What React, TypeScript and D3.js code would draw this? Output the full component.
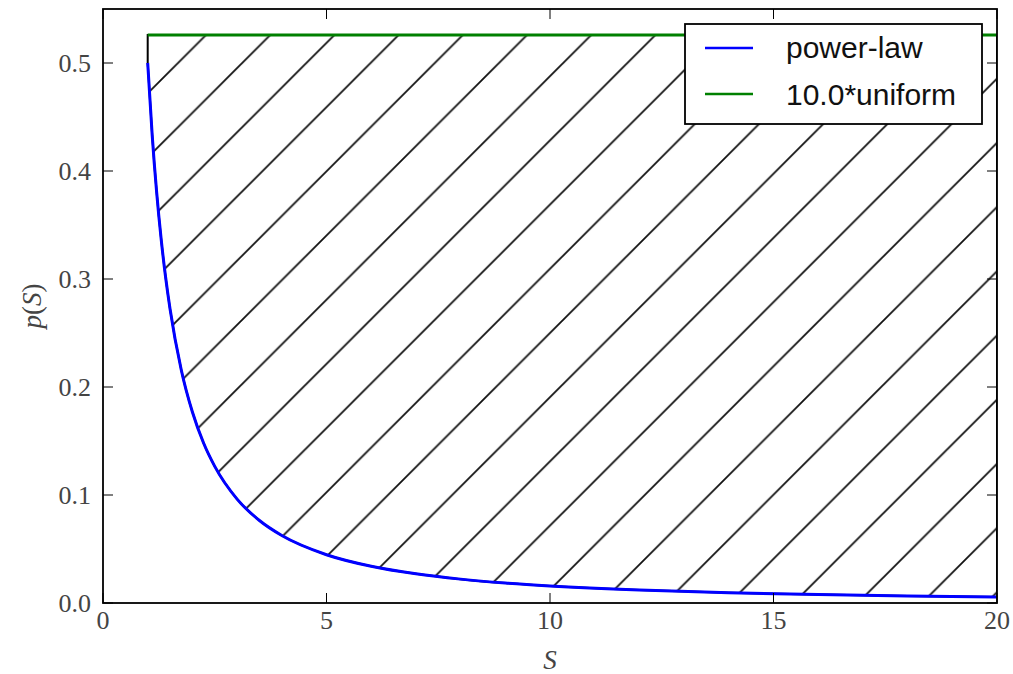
import React from "react";
import * as d3 from "d3";

const sValues = [1, 1.1, 1.2, 1.3, 1.4, 1.5, 1.75, 2, 2.25, 2.5, 3, 3.5, 4, 5, 6, 7, 8, 9, 10, 12, 14, 16, 18, 20];
const powerLaw = [0.5, 0.4334, 0.3804, 0.3373, 0.3018, 0.2722, 0.216, 0.1768, 0.1481, 0.1265, 0.0962, 0.0764, 0.0625, 0.0447, 0.034, 0.027, 0.0221, 0.0185, 0.0158, 0.012, 0.00955, 0.00781, 0.00655, 0.00559];
const uniformS = [1, 20];
const uniformP = [0.526, 0.526];
const xTicks = [0, 5, 10, 15, 20];
const yTicks = [0, 0.1, 0.2, 0.3, 0.4, 0.5];
const legendLabels = ["power-law", "10.0*uniform"];
const legendColors = ["#0000ff", "#008000"];

const W = 1013, H = 674;
const L = 103, R = 997, T = 9, B = 603;

export default function App() {
  const x = d3.scaleLinear().domain([0, 20]).range([L, R]);
  const y = d3.scaleLinear().domain([0, 0.55]).range([B, T]);
  const pts: [number, number][] = sValues.map((s, i) => [s, powerLaw[i]]);
  const line = d3.line<[number, number]>().x(d => x(d[0])).y(d => y(d[1])).curve(d3.curveMonotoneX);
  const uniPts: [number, number][] = uniformS.map((s, i) => [s, uniformP[i]]);
  const upper = sValues.map(s => [s, d3.interpolateNumber(uniformP[0], uniformP[1])((s - uniformS[0]) / (uniformS[1] - uniformS[0]))] as [number, number]);
  const area = d3.area<[number, number]>()
    .x(d => x(d[0]))
    .y0((d, i) => y(upper[i][1]))
    .y1(d => y(d[1]))
    .curve(d3.curveMonotoneX);
  const hw = 64.2;
  const serif = "'Liberation Serif', 'DejaVu Serif', serif";
  const sans = "'Liberation Sans', Arial, sans-serif";
  const tickLen = 10;
  return (
    <svg width={W} height={H} style={{ position: "absolute", left: 0, top: 0, background: "#fff" }}>
      <defs>
        <pattern id="hatch" patternUnits="userSpaceOnUse" x={241 % hw} y={0} width={hw} height={hw}>
          <path d={`M0,${hw} L${hw},0 M-3,3 L3,-3 M${hw - 3},${hw + 3} L${hw + 3},${hw - 3}`} stroke="#111" strokeWidth={1.8} />
        </pattern>
        <clipPath id="plotclip">
          <rect x={L} y={T} width={R - L} height={B - T} />
        </clipPath>
      </defs>
      <rect x={0} y={0} width={W} height={H} fill="#fff" />
      <g clipPath="url(#plotclip)">
        <path d={area(pts) || ""} fill="url(#hatch)" stroke="#000" strokeWidth={2} />
        <path d={line(uniPts) || ""} fill="none" stroke={legendColors[1]} strokeWidth={3} />
        <path d={line(pts) || ""} fill="none" stroke={legendColors[0]} strokeWidth={3} />
      </g>
      <rect x={L} y={T} width={R - L} height={B - T} fill="none" stroke="#000" strokeWidth={1.8} />
      {xTicks.map(t => (
        <g key={"x" + t}>
          <line x1={x(t)} x2={x(t)} y1={B} y2={B - tickLen} stroke="#000" strokeWidth={1} />
          <line x1={x(t)} x2={x(t)} y1={T} y2={T + tickLen} stroke="#000" strokeWidth={1} />
          <text x={x(t)} y={629} textAnchor="middle" fontFamily={serif} fontSize={26} fill="#444">{t}</text>
        </g>
      ))}
      {yTicks.map(t => (
        <g key={"y" + t}>
          <line x1={L} x2={L + tickLen} y1={y(t)} y2={y(t)} stroke="#000" strokeWidth={1} />
          <line x1={R} x2={R - tickLen} y1={y(t)} y2={y(t)} stroke="#000" strokeWidth={1} />
          <text x={91} y={y(t) + 8.5} textAnchor="end" fontFamily={serif} fontSize={26} fill="#444">{t.toFixed(1)}</text>
        </g>
      ))}
      <text x={x(10)} y={669} textAnchor="middle" fontFamily={serif} fontStyle="italic" fontSize={27} fill="#444">S</text>
      <text transform={`translate(41, ${y(0.275)}) rotate(-90)`} textAnchor="middle" fontFamily={serif} fontSize={27} fill="#444">
        <tspan fontStyle="italic">p</tspan>(<tspan fontStyle="italic">S</tspan>)
      </text>
      <g>
        <rect x={685} y={24} width={297} height={100} fill="#fff" stroke="#000" strokeWidth={1.8} />
        {legendLabels.map((lab, i) => (
          <g key={lab}>
            <line x1={705} x2={753} y1={48 + i * 46} y2={48 + i * 46} stroke={legendColors[i]} strokeWidth={2.5} />
            <text x={786} y={58 + i * 47} fontFamily={sans} fontSize={30} fill="#111">{lab}</text>
          </g>
        ))}
      </g>
    </svg>
  );
}
